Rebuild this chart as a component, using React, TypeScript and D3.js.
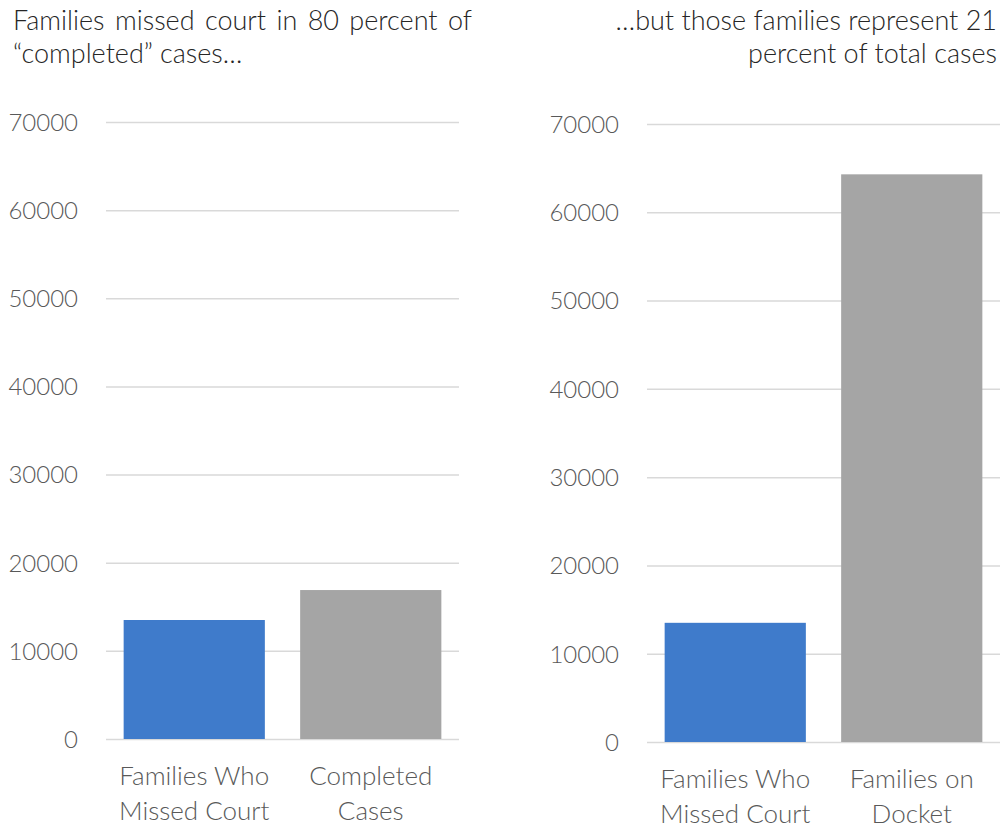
import { useEffect, useRef } from "react";
import * as d3 from "d3";

const leftCategories = ["Families Who\nMissed Court", "Completed\nCases"];
const leftValues = [13500, 16900];
const rightCategories = ["Families Who\nMissed Court", "Families on\nDocket"];
const rightValues = [13500, 64300];
const yTicks = [0, 10000, 20000, 30000, 40000, 50000, 60000, 70000];
const barColors = ["#3f7bcb", "#a5a5a5"];

const leftTitle = ["Families missed court in 80 percent of", "\u201ccompleted\u201d cases\u2026"];
const rightTitle = ["\u2026but those families represent 21", "percent of total cases"];

const FONT = "Lato, 'Open Sans', sans-serif";

export default function App() {
  const ref = useRef<SVGSVGElement>(null);

  useEffect(() => {
    if (!ref.current) return;
    const svg = d3.select(ref.current);
    svg.selectAll("*").remove();

    const panels = [
      { cats: leftCategories, vals: leftValues, x0: 106, x1: 459, yBase: 739, yTop: 122 },
      { cats: rightCategories, vals: rightValues, x0: 647, x1: 1000, yBase: 742, yTop: 124 },
    ];

    panels.forEach((p) => {
      const x = d3.scaleBand().domain(p.cats).range([p.x0, p.x1]).paddingInner(0.2).paddingOuter(0.1);
      const y = d3.scaleLinear().domain([0, 70000]).range([p.yBase, p.yTop]);
      const g = svg.append("g");

      // gridlines + tick labels
      g.append("g")
        .attr("transform", `translate(${p.x0},0)`)
        .call(d3.axisLeft(y).tickValues(yTicks).tickSize(-(p.x1 - p.x0)).tickPadding(28).tickFormat((d) => String(d)))
        .call((a) => a.select(".domain").remove())
        .call((a) => a.selectAll(".tick line").attr("stroke", "#d9d9d9").attr("stroke-width", 1.5))
        .call((a) =>
          a.selectAll(".tick text")
            .attr("fill", "#595959")
            .attr("font-family", FONT)
            .attr("font-weight", 300)
            .attr("font-size", 24)
            .attr("dy", "0.35em")
        );

      g.selectAll(".bar")
        .data(p.cats)
        .join("rect")
        .attr("x", (d) => x(d) ?? 0)
        .attr("width", x.bandwidth())
        .attr("y", (_, i) => y(p.vals[i]))
        .attr("height", (_, i) => y(0) - y(p.vals[i]))
        .attr("fill", (_, i) => barColors[i]);

      // category labels
      g.selectAll(".cat")
        .data(p.cats)
        .join("text")
        .attr("text-anchor", "middle")
        .attr("fill", "#595959")
        .attr("font-family", FONT)
        .attr("font-weight", 300)
        .attr("font-size", 26)
        .each(function (d) {
          const t = d3.select(this);
          d.split("\n").forEach((line, li) => {
            t.append("tspan")
              .attr("x", (x(d) ?? 0) + x.bandwidth() / 2)
              .attr("y", p.yBase + 46 + li * 35)
              .text(line);
          });
        });
    });

    // titles
    const titleStyle = (t: d3.Selection<SVGTextElement, unknown, null, undefined>) =>
      t.attr("fill", "#262626").attr("font-family", FONT).attr("font-weight", 300).attr("font-size", 27);

    const l1 = svg.append("text").attr("x", 13).attr("y", 30).text(leftTitle[0]).call(titleStyle);
    // justify first line of left title
    const w = (l1.node() as SVGTextElement).getComputedTextLength();
    const gaps = leftTitle[0].split(" ").length - 1;
    l1.attr("word-spacing", Math.max(0, (472 - 13 - w) / gaps));
    svg.append("text").attr("x", 13).attr("y", 63).text(leftTitle[1]).call(titleStyle);

    rightTitle.forEach((line, i) => {
      svg.append("text")
        .attr("x", 997)
        .attr("y", 30 + i * 33)
        .attr("text-anchor", "end")
        .text(line)
        .call(titleStyle);
    });
  }, []);

  return (
    <svg
      ref={ref}
      width={1000}
      height={829}
      style={{ position: "absolute", left: 0, top: 0, background: "#fff" }}
    />
  );
}
